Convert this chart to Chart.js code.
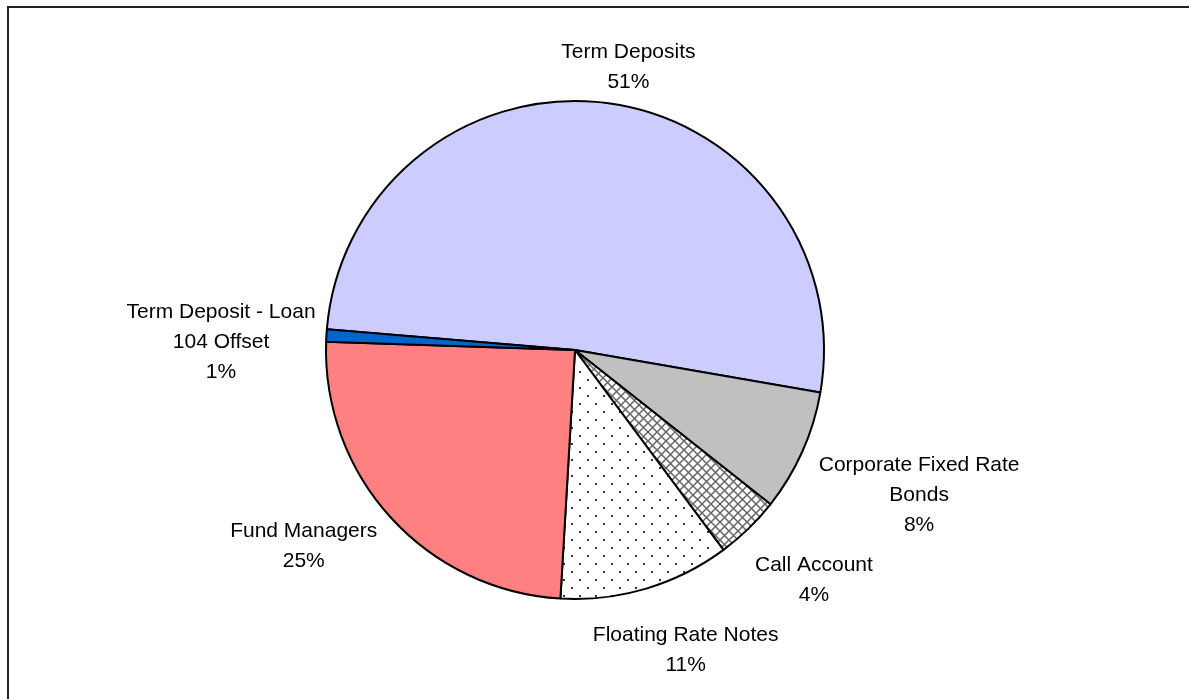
<!DOCTYPE html>
<html>
<head>
<meta charset="utf-8">
<script src="https://cdn.jsdelivr.net/npm/chart.js@4/dist/chart.umd.min.js"></script>
<style>
  body { margin: 0; background: #fff; }
  canvas { display: block; }
</style>
</head>
<body>
<canvas id="chart" width="1189" height="699"></canvas>
<script>
// data, in clockwise order starting from the Term Deposits slice
const categories = [
  ['Term Deposits'],
  ['Corporate Fixed Rate', 'Bonds'],
  ['Call Account'],
  ['Floating Rate Notes'],
  ['Fund Managers'],
  ['Term Deposit - Loan', '104 Offset']
]
const shares = [51.4, 7.9, 4.2, 11.1, 24.6, 0.8]

var ctx = document.getElementById('chart').getContext('2d')

function dotPattern() {
  const c = document.createElement('canvas')
  c.width = 16
  c.height = 16
  const g = c.getContext('2d')
  g.fillStyle = '#fff'
  g.fillRect(0, 0, 16, 16)
  g.fillStyle = '#333'
  g.fillRect(3, 3, 2, 2)
  g.fillRect(11, 11, 2, 2)
  return ctx.createPattern(c, 'repeat')
}

function crossPattern() {
  const c = document.createElement('canvas')
  c.width = 9
  c.height = 9
  const g = c.getContext('2d')
  g.fillStyle = '#fff'
  g.fillRect(0, 0, 9, 9)
  g.strokeStyle = '#666'
  g.lineWidth = 1.5
  g.beginPath()
  g.moveTo(-1, -1)
  g.lineTo(10, 10)
  g.moveTo(-1, 10)
  g.lineTo(10, -1)
  g.stroke()
  return ctx.createPattern(c, 'repeat')
}

const sliceColors = ['#CCCCFF', '#C0C0C0', crossPattern(), dotPattern(), '#FF8080', '#0066CC']

// outside labels: name lines + percentage
const pieLabels = {
  id: 'pieLabels',
  afterDatasetsDraw(chart, args, opts) {
    const c = chart.ctx
    const meta = chart.getDatasetMeta(0)
    const data = chart.data.datasets[0].data
    const total = data.reduce((a, b) => a + b, 0)
    c.save()
    c.font = '21px "Liberation Sans", Arial, sans-serif'
    c.fillStyle = '#000'
    c.textAlign = 'center'
    c.textBaseline = 'middle'
    meta.data.forEach((arc, i) => {
      const lines = chart.data.labels[i].concat([Math.round(data[i] / total * 100) + '%'])
      const w = Math.max(...lines.map((l) => c.measureText(l).width))
      const h = lines.length * opts.lineHeight
      const a = (arc.startAngle + arc.endAngle) / 2
      const r = arc.outerRadius + opts.gaps[i]
      const cx = arc.x + Math.cos(a) * r + Math.cos(a) * w / 2 + opts.shifts[i][0]
      const cy = arc.y + Math.sin(a) * r + Math.sin(a) * h / 2 + opts.shifts[i][1]
      lines.forEach((l, k) => {
        c.fillText(l, cx, cy - h / 2 + opts.lineHeight * (k + 0.5))
      })
    })
    c.restore()
  }
}

// white page with the frame line
const frame = {
  id: 'frame',
  beforeDraw(chart) {
    const c = chart.ctx
    c.save()
    c.fillStyle = '#fff'
    c.fillRect(0, 0, chart.width, chart.height)
    c.strokeStyle = '#222'
    c.lineWidth = 2
    c.strokeRect(8, 7, 1400, 900)
    c.restore()
  }
}

const chart = new Chart(ctx, {
  type: 'pie',
  data: {
    labels: categories,
    datasets: [
      {
        data: shares,
        backgroundColor: sliceColors,
        borderColor: '#000',
        borderWidth: 2,
        hoverOffset: 0,
      },
    ],
  },
  options: {
    responsive: false,
    animation: false,
    rotation: 274.8,
    layout: {
      padding: { left: 325, right: 364, top: 100, bottom: 99 },
    },
    plugins: {
      legend: { display: false },
      tooltip: { enabled: false },
      pieLabels: {
        gaps: [9, 22, 35, 38, 27, -9],
        shifts: [[12, 3], [5, 16], [0, 5], [2, -4], [-13, -10], [-20, 9]],
        lineHeight: 30,
      },
    },
    events: [],
  },
  plugins: [frame, pieLabels],
})
</script>
</body>
</html>
